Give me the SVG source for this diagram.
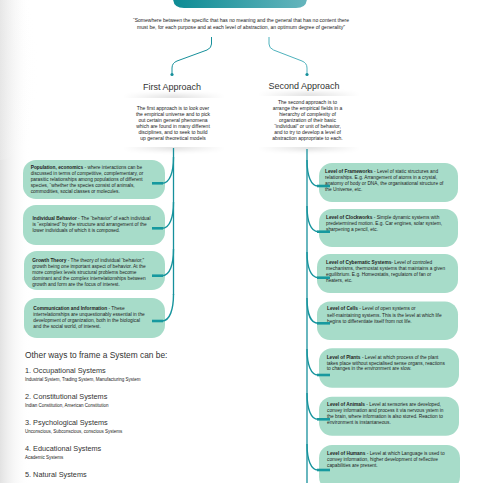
<svg xmlns="http://www.w3.org/2000/svg" width="483" height="483" viewBox="0 0 483 483">
<defs>
<linearGradient id="hdr" x1="0" y1="0" x2="1" y2="0">
<stop offset="0" stop-color="#0c8b94"/>
<stop offset="1" stop-color="#66b5bd"/>
</linearGradient>
<linearGradient id="edge" x1="0" y1="0" x2="1" y2="0">
<stop offset="0" stop-color="#e2e2e2"/>
<stop offset="1" stop-color="#ffffff" stop-opacity="0"/>
</linearGradient>
<radialGradient id="corner" cx="0" cy="0.5" r="1">
<stop offset="0" stop-color="#dcdcdc"/>
<stop offset="1" stop-color="#ffffff" stop-opacity="0"/>
</radialGradient>
<linearGradient id="band" x1="0" y1="0" x2="1" y2="0">
<stop offset="0" stop-color="#000" stop-opacity="0"/>
<stop offset="0.5" stop-color="#000" stop-opacity="1"/>
<stop offset="1" stop-color="#000" stop-opacity="0"/>
</linearGradient>
<filter id="blur" x="-20%" y="-100%" width="140%" height="300%">
<feGaussianBlur stdDeviation="2.5"/>
</filter>
</defs>
<style>
text{font-family:"Liberation Sans",Arial,sans-serif;fill:#222}
.q{font-size:4.9px}
.ap{font-size:9px;fill:#333;text-anchor:middle}
.apt{font-size:5px;text-anchor:middle}
.bt{font-size:4.8px}
.b{font-weight:bold}
.box{fill:#a7dcc9}
.sh{fill:url(#band);opacity:0.16;filter:url(#blur)}
.card{fill:#fff}
.trunk{fill:none;stroke:#16909c;stroke-width:1.3}
.curve{fill:none;stroke:#16949d;stroke-width:1.4}
.hook{fill:none;stroke:#17999f;stroke-width:2.6}
.h1{font-size:8.4px;fill:#333}
.h2{font-size:7.3px;fill:#333}
.h3{font-size:4.5px}
</style>
<rect width="483" height="483" fill="#fff"/>
<rect x="0" y="0" width="30" height="483" fill="url(#edge)"/>
<ellipse cx="0" cy="70" rx="40" ry="90" fill="url(#corner)" opacity="0.7"/>

<g id="header">
<path d="M173,-12 L173,-2 Q173,8 184,8 L296,8 Q307,8 307,-2 L307,-12 Z" fill="url(#hdr)"/>
</g>

<g id="quote">
<text class="q" x="241" y="21.7" text-anchor="middle" textLength="216" lengthAdjust="spacingAndGlyphs">“Somewhere between the specific that has no meaning and the general that has no content there</text>
<text class="q" x="241" y="29" text-anchor="middle" textLength="208" lengthAdjust="spacingAndGlyphs">must be, for each purpose and at each level of abstraction, an optimum degree of generality”</text>
</g>

<g id="first-approach">
<text class="ap" x="172" y="90">First Approach</text>
<rect class="sh" x="122" y="95" width="104" height="5"/>
<rect class="sh" x="122" y="145" width="104" height="5"/>
<rect class="card" x="124" y="98" width="100" height="49"/>
<text class="apt" x="173" y="110">The first approach is to look over</text>
<text class="apt" x="173" y="116">the empirical universe and to pick</text>
<text class="apt" x="173" y="122">out certain general phenomena</text>
<text class="apt" x="173" y="128">which are found in many different</text>
<text class="apt" x="173" y="134">disciplines, and to seek to build</text>
<text class="apt" x="173" y="140">up general theoretical models</text>
</g>

<g id="second-approach">
<text class="ap" x="304" y="88.5">Second Approach</text>
<rect class="sh" x="257" y="93" width="104" height="5"/>
<rect class="sh" x="257" y="145" width="104" height="5"/>
<rect class="card" x="259" y="96" width="100" height="51"/>
<text class="apt" x="307.5" y="104">The second approach is to</text>
<text class="apt" x="307.5" y="110">arrange the empirical fields in a</text>
<text class="apt" x="307.5" y="116">hierarchy of complexity of</text>
<text class="apt" x="307.5" y="122">organization of their basic</text>
<text class="apt" x="307.5" y="128">“individual” or unit of behavior,</text>
<text class="apt" x="307.5" y="134">and to try to develop a level of</text>
<text class="apt" x="307.5" y="140">abstraction appropriate to each.</text>
</g>

<g id="population">
<rect class="box" x="23" y="160" width="142" height="39" rx="13"/>
<text class="bt" x="30.7" y="169"><tspan class="b">Population, economics</tspan> - where interactions can be</text>
<text class="bt" x="30.7" y="175">discussed in terms of competitive, complementary, or</text>
<text class="bt" x="30.7" y="181">parasitic relationships among populations of different</text>
<text class="bt" x="30.7" y="187">species, “whether the species consist of animals,</text>
<text class="bt" x="30.7" y="193">commodities, social classes or molecules.</text>
</g>

<g id="individual-behavior">
<rect class="box" x="23" y="205" width="142" height="40" rx="13"/>
<text class="bt" x="32.5" y="220"><tspan class="b">Individual Behavior</tspan> - The “behavior” of each individual</text>
<text class="bt" x="32.5" y="226">is “explained” by the structure and arrangement of the</text>
<text class="bt" x="32.5" y="232">lower individuals of which it is composed.</text>
</g>

<g id="growth-theory">
<rect class="box" x="24" y="251" width="141" height="39" rx="13"/>
<text class="bt" x="32.3" y="261.7"><tspan class="b">Growth Theory</tspan> - The theory of individual “behavior,”</text>
<text class="bt" x="32.3" y="267.6">growth being one important aspect of behavior. At the</text>
<text class="bt" x="32.3" y="273.5">more complex levels structural problems become</text>
<text class="bt" x="32.3" y="279.5">dominant and the complex interrelationships between</text>
<text class="bt" x="32.3" y="285.5">growth and form are the focus of interest.</text>
</g>

<g id="communication">
<rect class="box" x="24" y="298" width="141" height="40" rx="13"/>
<text class="bt" x="33.3" y="310"><tspan class="b">Communication and Information</tspan> - These</text>
<text class="bt" x="33.3" y="316">interrelationships are unquestionably essential in the</text>
<text class="bt" x="33.3" y="322">development of organization, both in the biological</text>
<text class="bt" x="33.3" y="328">and the social world, of interest.</text>
</g>

<g id="frameworks">
<rect class="box" x="319" y="163" width="139" height="39" rx="13"/>
<text class="bt" x="325" y="172.5"><tspan class="b">Level of Frameworks</tspan> - Level of static structures and</text>
<text class="bt" x="325" y="178.5">relationships. E.g. Arrangement of atoms in a crystal,</text>
<text class="bt" x="325" y="184.5">anatomy of body or DNA, the organisational structure of</text>
<text class="bt" x="325" y="190.5">the Universe, etc.</text>
</g>

<g id="clockworks">
<rect class="box" x="319" y="209" width="139" height="38" rx="13"/>
<text class="bt" x="326" y="218.5"><tspan class="b">Level of Clockworks</tspan> - Simple dynamic systems with</text>
<text class="bt" x="326" y="224.5">predetermined motion. E.g. Car engines, solar system,</text>
<text class="bt" x="326" y="230.5">sharpening a pencil, etc.</text>
</g>

<g id="cybernetic">
<rect class="box" x="317" y="254" width="141" height="39" rx="13"/>
<text class="bt" x="326" y="263.5"><tspan class="b">Level of Cybernatic Systems</tspan>- Level of controled</text>
<text class="bt" x="326" y="269.5">mechanisms, thermostat systems that maintains a given</text>
<text class="bt" x="326" y="275.5">equilibrium. E.g. Homeostatis, regulators of fan or</text>
<text class="bt" x="326" y="281.5">heaters, etc.</text>
</g>

<g id="cells">
<rect class="box" x="317" y="301.5" width="141" height="38.5" rx="13"/>
<text class="bt" x="327" y="310.3"><tspan class="b">Level of Cells</tspan> - Level of open systems or</text>
<text class="bt" x="327" y="316.5">self-maintaining systems. This is the level at which life</text>
<text class="bt" x="327" y="322.5">begins to differentiate itself from not life.</text>
</g>

<g id="plants">
<rect class="box" x="319" y="348.3" width="140" height="39.4" rx="13"/>
<text class="bt" x="326.7" y="358.5"><tspan class="b">Level of Plants</tspan> - Level at which process of the plant</text>
<text class="bt" x="326.7" y="364.5">takes place without specialised sense organs, reactions</text>
<text class="bt" x="326.7" y="370.3">to changes in the environment are slow.</text>
</g>

<g id="animals">
<rect class="box" x="319" y="396.7" width="140" height="39" rx="13"/>
<text class="bt" x="327" y="405.7"><tspan class="b">Level of Animals</tspan> - Level at sensories are developed,</text>
<text class="bt" x="327" y="411.7">convey information and process it via nervous ystem in</text>
<text class="bt" x="327" y="417.7">the brain, where information is also stored. Reaction to</text>
<text class="bt" x="327" y="423.7">environment is instantaneous.</text>
</g>

<g id="humans">
<rect class="box" x="319" y="445" width="141" height="45" rx="13"/>
<text class="bt" x="327" y="455"><tspan class="b">Level of Humans</tspan> - Level at which Language is used to</text>
<text class="bt" x="327" y="461">convey information, higher development of reflective</text>
<text class="bt" x="327" y="467">capabilities are present.</text>
</g>

<g id="other-ways">
<text class="h1" x="25" y="357.5">Other ways to frame a System can be:</text>
<text class="h2" x="25" y="373">1. Occupational Systems</text>
<text class="h3" x="25" y="381">Industrial System, Trading System, Manufacturing System</text>
<text class="h2" x="25" y="399">2. Constitutional Systems</text>
<text class="h3" x="25" y="407">Indian Constitution, American Constitution</text>
<text class="h2" x="25" y="425">3. Psychological Systems</text>
<text class="h3" x="25" y="433">Unconscious, Subconscious, conscious Systems</text>
<text class="h2" x="25" y="451">4. Educational Systems</text>
<text class="h3" x="25" y="459">Academic Systems</text>
<text class="h2" x="25" y="477">5. Natural Systems</text>
</g>

<g id="connectors">
<path d="M211.5,37 L211.5,44 Q211.5,48 207,50 L177,61 Q172,63 172,68 L172,74" fill="none" stroke="#17909b" stroke-width="1"/>
<circle cx="172" cy="74.5" r="1.6" fill="#17909b"/>
<path d="M269,37 L269,44 Q269,48 273.5,50 L302,61 Q307,63 307,68 L307,74" fill="none" stroke="#4fb2bd" stroke-width="1"/>
<circle cx="307" cy="74.5" r="1.6" fill="#17909b"/>

<line class="trunk" x1="173.5" y1="148" x2="173.5" y2="295"/>
<line class="trunk" x1="307" y1="149" x2="307" y2="490"/>

<path class="curve" d="M173.5,157 C173.5,172 170,183.3 162,183.3"/>
<path class="hook" d="M163,183.3 L152,183.3"/>
<path class="curve" d="M173.5,202 C173.5,217 170,228.3 162,228.3"/>
<path class="hook" d="M163,228.3 L152,228.3"/>
<path class="curve" d="M173.5,249 C173.5,264 170,275.7 162,275.7"/>
<path class="hook" d="M163,275.7 L152,275.7"/>
<path class="curve" d="M173.5,294 C173.5,309 170,321 162,321"/>
<path class="hook" d="M163,321 L152,321"/>

<path class="curve" d="M307,160 C307,176 311,186 318,186"/>
<path class="hook" d="M317,186 L330,186"/>
<path class="curve" d="M307,206 C307,222 311,231.7 318,231.7"/>
<path class="hook" d="M317,231.7 L330,231.7"/>
<path class="curve" d="M307,252 C307,268 311,277.7 318,277.7"/>
<path class="hook" d="M317,277.7 L330,277.7"/>
<path class="curve" d="M307,298 C307,314 311,323.3 318,323.3"/>
<path class="hook" d="M317,323.3 L330,323.3"/>
<path class="curve" d="M307,349 C307,365 311,375 318,375"/>
<path class="hook" d="M317,375 L330,375"/>
<path class="curve" d="M307,393 C307,409 311,419.3 318,419.3"/>
<path class="hook" d="M317,419.3 L330,419.3"/>
<path class="curve" d="M307,444 C307,460 311,470 318,470"/>
<path class="hook" d="M317,470 L330,470"/>
</g>
</svg>
